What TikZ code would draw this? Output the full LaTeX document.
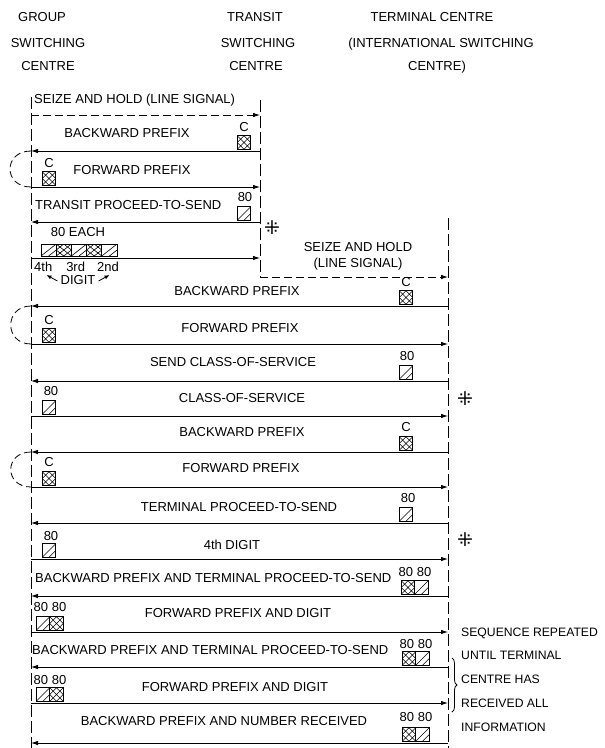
\documentclass[tikz,border=0pt]{standalone}
\usepackage{fontspec}
\setmainfont{Liberation Sans}
\newfontfamily\symfont{DejaVu Sans}
\usetikzlibrary{arrows.meta,decorations.pathreplacing}
\begin{document}
\begin{tikzpicture}[x=1pt,y=-1pt,
  lbl/.style={inner sep=0pt, text height=9.3pt, text depth=0pt, font=\fontsize{13}{15}\selectfont},
  note/.style={lbl, anchor=west, font=\fontsize{12.2}{14}\selectfont},
  notemark/.style={inner sep=0pt, font=\symfont\fontsize{19}{21}\selectfont},
  life/.style={line width=0.9pt, dash pattern=on 12pt off 4pt},
  msg/.style={line width=0.8pt, -{Latex[length=7pt,width=4.5pt]}},
  sig/.style={msg, dash pattern=on 8pt off 4pt},
  lp/.style={line width=0.8pt, dash pattern=on 7pt off 4pt},
  bx/.style={draw, line width=0.7pt, minimum size=13.5pt, inner sep=0pt},
  cb/.style={bx, path picture={
     \draw[line width=0.6pt] (path picture bounding box.south west) -- (path picture bounding box.north east)
       (path picture bounding box.north west) -- (path picture bounding box.south east)
       (path picture bounding box.north) -- (path picture bounding box.east) -- (path picture bounding box.south) -- (path picture bounding box.west) -- cycle;}},
  eb/.style={bx, path picture={
     \draw[line width=0.6pt] (path picture bounding box.south west) -- (path picture bounding box.north east)
       (path picture bounding box.south) -- (path picture bounding box.east);}},
  cell/.style={minimum width=15.2pt, minimum height=12pt}
]
\useasboundingbox[fill=white] (0,0) rectangle (605,748);

% headers
\node[lbl] (h1) at (42,17) {GROUP};
\node[lbl] (h2) at (48,43) {SWITCHING};
\node[lbl] (h3) at (48,66) {CENTRE};
\node[lbl] (h4) at (255,17) {TRANSIT};
\node[lbl] (h5) at (258,43) {SWITCHING};
\node[lbl] (h6) at (256,66) {CENTRE};
\node[lbl] (h7) at (432,17) {TERMINAL CENTRE};
\node[lbl] (h8) at (441,43) {(INTERNATIONAL SWITCHING};
\node[lbl] (h9) at (437,66) {CENTRE)};

% life lines
\coordinate (Gtop) at (31,97);
\coordinate (Gbot) at (31,748);
\coordinate (Ttop) at (260,100);
\coordinate (Tbot) at (260,277);
\coordinate (Etop) at (448,218);
\coordinate (Ebot) at (448,748);
\coordinate (E6) at (448,277);
\draw[life] (Gtop) -- (Gbot);
\draw[life] (Ttop) -- (Tbot);
\draw[life] (Etop) -- (Ebot);

% group <-> transit
\coordinate (g1) at (31,115); \coordinate (t1) at (260,115);
\draw[sig] (g1) -- (t1);
\foreach \n/\y/\d in {2/151/tg,3/187/gt,4/222/tg,5/258/gt}{
  \coordinate (g\n) at (31,\y); \coordinate (t\n) at (260,\y);
  \ifnum\pdfstrcmp{\d}{tg}=0 \draw[msg] (t\n) -- (g\n); \else \draw[msg] (g\n) -- (t\n); \fi
}
% transit -> terminal seize
\draw[sig] (Tbot) -- (E6);
% group <-> terminal
\foreach \n/\y/\d in {7/306/eg,8/344/ge,9/381/eg,10/416/ge,11/452/eg,12/487/ge,13/523/eg,14/559/ge,15/596/eg,16/632/ge,17/667/eg,18/703/ge,19/743/eg}{
  \coordinate (g\n) at (31,\y); \coordinate (e\n) at (448,\y);
  \ifnum\pdfstrcmp{\d}{eg}=0 \draw[msg] (e\n) -- (g\n); \else \draw[msg] (g\n) -- (e\n); \fi
}

% loops
\draw[lp] (g2) .. controls +(-28,0) and +(-28,0) .. (g3);
\draw[lp] (g7) .. controls +(-27,0) and +(-27,0) .. (g8);
\draw[lp] (g11) .. controls +(-27,0) and +(-27,0) .. (g12);

% row labels
\node[lbl, anchor=west] (m1) at (34,99) {SEIZE AND HOLD (LINE SIGNAL)};
\node[lbl] (m2) at (127,133) {BACKWARD PREFIX};
\node[lbl] (c2) at (244,127) {C};
\node[cb] (b2) at (244,142.5) {};
\node[lbl] (m3) at (132,170) {FORWARD PREFIX};
\node[lbl] (c3) at (49,163) {C};
\node[cb] (b3) at (49,178.5) {};
\node[lbl, anchor=west] (m4) at (35,205) {TRANSIT PROCEED-TO-SEND};
\node[lbl] (c4) at (245,197) {80};
\node[eb] (b4) at (244,213.5) {};
\node[lbl] (m5) at (78,232) {80 EACH};
\node[eb, cell] (s1) at (48.6,250) {};
\node[cb, cell] (s2) at (63.8,250) {};
\node[eb, cell] (s3) at (79,250) {};
\node[cb, cell] (s4) at (94.2,250) {};
\node[eb, cell] (s5) at (109.4,250) {};
\node[lbl, anchor=west] (d5) at (34,267) {4th\hspace{14pt}3rd\hspace{12pt}2nd};
\node[lbl] (dg) at (78,280) {DIGIT};
\draw[line width=0.8pt, -{Latex[length=5pt,width=4pt]}] (dg.west) ++(-3,1) -- ++(-11,-6);
\draw[line width=0.8pt, -{Latex[length=5pt,width=4pt]}] (dg.east) ++(3,1) -- ++(11,-6);

\node[lbl] (m6a) at (358,247) {SEIZE AND HOLD};
\node[lbl] (m6b) at (358,263) {(LINE SIGNAL)};

\node[lbl] (m7) at (237,291) {BACKWARD PREFIX};
\node[lbl] (c7) at (406,282) {C};
\node[cb] (b7) at (406,297.5) {};
\node[lbl] (m8) at (240,328) {FORWARD PREFIX};
\node[lbl] (c8) at (49,320) {C};
\node[cb] (b8) at (49,335.5) {};
\node[lbl] (m9) at (233,362) {SEND CLASS-OF-SERVICE};
\node[lbl] (c9) at (407,356) {80};
\node[eb] (b9) at (406,372.5) {};
\node[lbl] (m10) at (242,398) {CLASS-OF-SERVICE};
\node[lbl] (c10) at (51,391) {80};
\node[eb] (b10) at (49,407.5) {};
\node[lbl] (m11) at (242,432) {BACKWARD PREFIX};
\node[lbl] (c11) at (406,427) {C};
\node[cb] (b11) at (406,443.5) {};
\node[lbl] (m12) at (241,468) {FORWARD PREFIX};
\node[lbl] (c12) at (49,462) {C};
\node[cb] (b12) at (49,478.5) {};
\node[lbl] (m13) at (239,507) {TERMINAL PROCEED-TO-SEND};
\node[lbl] (c13) at (408,498) {80};
\node[eb] (b13) at (406,514.5) {};
\node[lbl] (m14) at (232,545) {4th DIGIT};
\node[lbl] (c14) at (51,536) {80};
\node[eb] (b14) at (49,550.5) {};
\node[lbl, anchor=west] (m15) at (35,578) {BACKWARD PREFIX AND TERMINAL PROCEED-TO-SEND};
\node[lbl] (c15) at (415,572) {80 80};
\node[cb] (b15a) at (408,587.5) {};
\node[eb] (b15b) at (421.5,587.5) {};
\node[lbl] (m16) at (238,613) {FORWARD PREFIX AND DIGIT};
\node[lbl] (c16) at (50,607) {80 80};
\node[eb] (b16a) at (43,623.5) {};
\node[cb] (b16b) at (56.5,623.5) {};
\node[lbl, anchor=west] (m17) at (32,650) {BACKWARD PREFIX AND TERMINAL PROCEED-TO-SEND};
\node[lbl] (c17) at (416,644) {80 80};
\node[cb] (b17a) at (409,658.5) {};
\node[eb] (b17b) at (422.5,658.5) {};
\node[lbl] (m18) at (235,687) {FORWARD PREFIX AND DIGIT};
\node[lbl] (c18) at (50,680) {80 80};
\node[eb] (b18a) at (43,694.5) {};
\node[cb] (b18b) at (56.5,694.5) {};
\node[lbl] (m19) at (224,721) {BACKWARD PREFIX AND NUMBER RECEIVED};
\node[lbl] (c19) at (416,717) {80 80};
\node[cb] (b19a) at (409,734.5) {};
\node[eb] (b19b) at (422.5,734.5) {};

% note marks
\node[notemark] (n1) at (272,228) {⁜};
\node[notemark] (n2) at (465,399) {⁜};
\node[notemark] (n3) at (465,540) {⁜};

% brace and note
\coordinate (br1) at (452,658);
\coordinate (br2) at (452,712);
\draw[line width=0.8pt, decorate, decoration={brace, amplitude=5pt}] (br1) -- (br2);
\node[note] (r1) at (461,632) {SEQUENCE REPEATED};
\node[note] (r2) at (461,655) {UNTIL TERMINAL};
\node[note] (r3) at (461,679) {CENTRE HAS};
\node[note] (r4) at (461,703) {RECEIVED ALL};
\node[note] (r5) at (461,727) {INFORMATION};
\end{tikzpicture}
\end{document}
